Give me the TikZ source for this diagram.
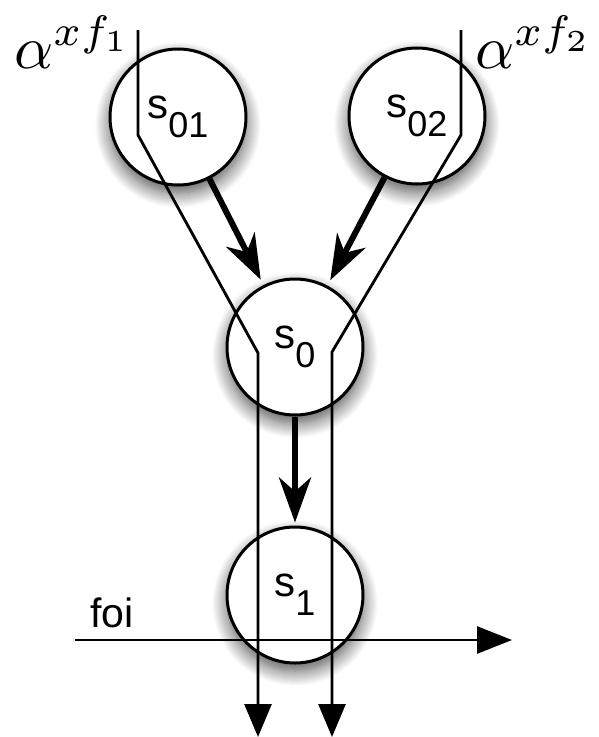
\documentclass[tikz,border=0pt]{standalone}
\usepackage{fontspec}
\usepackage{graphicx}
\newfontfamily\hvfont{Liberation Sans}
\usetikzlibrary{arrows.meta,shadows.blur}
\newcommand{\slabel}[1]{s\raisebox{-19pt}{\fontsize{36}{36}\selectfont #1}}
\begin{document}
\begin{tikzpicture}[x=1pt,y=-1pt,
  state/.style={circle,draw,line width=3pt,fill=white,minimum size=136pt,inner sep=0pt,
    font=\hvfont\fontsize{42}{42}\selectfont,
    blur shadow={shadow xshift=0pt,shadow yshift=-8pt,shadow blur radius=15pt,shadow blur steps=15,shadow opacity=70}},
  flow/.style={line width=2.8pt},
  flowend/.style={flow,-{Triangle[length=33pt,width=27pt]}},
  trans/.style={line width=6pt,-{Stealth[length=45pt,width=32pt,inset=14pt]},shorten >=6pt},
  lbl/.style={font=\hvfont\fontsize{41}{41}\selectfont,inner sep=0pt},
  alab/.style={inner sep=0pt},
]
\useasboundingbox (0,0) rectangle (598,737);
% states
\node[state] (s01) at (178,117) {\slabel{01}};
\node[state] (s02) at (417,116) {\slabel{02}};
\node[state] (s0)  at (295,347) {\slabel{0}};
\node[state] (s1)  at (295,595) {\slabel{1}};
% alpha labels
\node[alab,anchor=base west] (a1) at (14,68) {\scalebox{6.1}{$\alpha^{xf_1}$}};
\node[alab,anchor=base west] (a2) at (475,68) {\scalebox{6.1}{$\alpha^{xf_2}$}};
% flow paths
\coordinate (p1a) at (138,30);
\coordinate (p1b) at (138,135);
\coordinate (p1c) at (258,353);
\coordinate (p1d) at (258,737);
\coordinate (p2a) at (461,30);
\coordinate (p2b) at (461,135);
\coordinate (p2c) at (332,352);
\coordinate (p2d) at (332,737);
\draw[flowend] (p1a) -- (p1b) -- (p1c) -- (p1d);
\draw[flowend] (p2a) -- (p2b) -- (p2c) -- (p2d);
% transitions
\draw[trans] (s01) -- (s0);
\draw[trans] (s02) -- (s0);
\draw[trans,shorten >=3pt] (s0) -- (s1);
% foi
\coordinate (f1) at (75,640);
\coordinate (f2) at (512,640);
\draw[flow,-{Triangle[length=35pt,width=27pt]}] (f1) -- (f2);
\node[lbl,anchor=base west] (foi) at (90,627) {foi};
\end{tikzpicture}
\end{document}
